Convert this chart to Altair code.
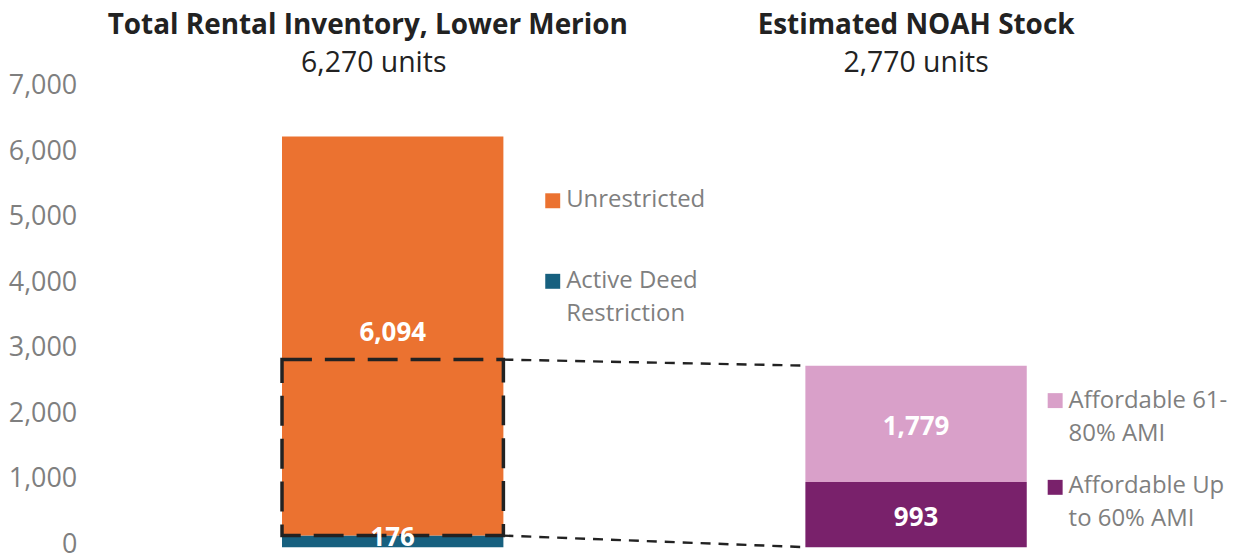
import altair as alt
import pandas as pd

# ---------------- data ----------------
bars = ["Total Rental Inventory, Lower Merion", "Estimated NOAH Stock"]
bar_subtitles = ["6,270 units", "2,770 units"]

seg_bar = [bars[0], bars[0], bars[1], bars[1]]
seg_name = ["Active Deed Restriction", "Unrestricted",
            "Affordable Up to 60% AMI", "Affordable 61-80% AMI"]
seg_value = [176, 6094, 993, 1779]
seg_color = ["#17607F", "#EB7230", "#79216B", "#D9A0C9"]

legend_bar = [bars[0], bars[0], bars[1], bars[1]]
legend_name = ["Unrestricted", "Active Deed Restriction",
               "Affordable 61-80% AMI", "Affordable Up to 60% AMI"]
legend_text = ["Unrestricted", "Active Deed\nRestriction",
               "Affordable 61-\n80% AMI", "Affordable Up\nto 60% AMI"]

box_top_value = 2864          # top of the dashed highlight box on the left bar
axis_values = [0, 1000, 2000, 3000, 4000, 5000, 6000, 7000]

# ---------------- derived tables ----------------
rows = []
running = {}
for b, n, v in zip(seg_bar, seg_name, seg_value):
    s = running.get(b, 0)
    rows.append({"bar": b, "name": n, "value": v, "start": s, "end": s + v,
                 "mid": s + v / 2})
    running[b] = s + v
seg = pd.DataFrame(rows)

bar2_total = running[bars[1]]
box_bottom_value = seg_value[0]

box_df = pd.DataFrame({"bar": [bars[0]], "lo": [box_bottom_value], "hi": [box_top_value]})
conn_df = pd.DataFrame({
    "from": [bars[0], bars[0]],
    "to": [bars[1], bars[1]],
    "ya": [box_top_value, box_bottom_value],
    "yb": [bar2_total, 0],
})

# ---------------- style ----------------
W, H = 1141, 540
PAD_IN, PAD_OUT = 0.577, 0.375
STEP = W / (len(bars) - PAD_IN + 2 * PAD_OUT)
BW = STEP * (1 - PAD_IN)
GRAY = "#7F7F7F"
DARK = "#222222"
xs = alt.Scale(domain=bars, paddingInner=PAD_IN, paddingOuter=PAD_OUT)
ys = alt.Scale(domain=[0, 8220], nice=False, zero=True)
color_scale = alt.Scale(domain=seg_name, range=seg_color)

X = alt.X("bar:N", scale=xs, axis=None, sort=bars)

bars_layer = alt.Chart(seg).mark_bar().encode(
    x=X,
    y=alt.Y("start:Q", scale=ys,
            axis=alt.Axis(values=axis_values, format=",.0f", title=None, grid=False,
                          domain=False, ticks=False, labelFont="Open Sans",
                          labelFontSize=27, labelColor=GRAY, labelPadding=9,
                          labelOffset=-3)),
    y2="end:Q",
    color=alt.Color("name:N", scale=color_scale, legend=None),
)

box = alt.Chart(box_df).mark_rect(
    fillOpacity=0, stroke=DARK, strokeWidth=3.5, strokeDash=[30, 13]
).encode(x=X, y=alt.Y("lo:Q", scale=ys), y2="hi:Q")

connectors = alt.Chart(conn_df).mark_rule(
    color=DARK, strokeWidth=2.4, strokeDash=[10, 8]
).encode(
    x=alt.X("from:N", scale=xs, bandPosition=1, axis=None),
    x2=alt.X2("to:N", bandPosition=0),
    y=alt.Y("ya:Q", scale=ys),
    y2="yb:Q",
)

layers = [bars_layer, box, connectors]

label_dy = {bars[0]: -3, bars[1]: 3}
for b in bars:
    layers.append(alt.Chart(seg[seg["bar"] == b]).mark_text(
        font="Open Sans", fontWeight="bold", fontSize=26, color="white",
        baseline="middle", dy=label_dy[b]
    ).encode(x=X, y=alt.Y("mid:Q", scale=ys),
             text=alt.Text("value:Q", format=",.0f")))

title_font = "Open Sans"
title_dx = [-25, 0]
sub_dx = [-19, 0]
for b, sub, dx, sdx in zip(bars, bar_subtitles, title_dx, sub_dx):
    d = pd.DataFrame({"bar": [b], "title": [b], "sub": [sub]})
    layers.append(alt.Chart(d).mark_text(
        font=title_font, fontWeight="bold", fontSize=28, color=DARK,
        baseline="alphabetic", dx=dx
    ).encode(x=X, y=alt.value(25), text="title:N"))
    layers.append(alt.Chart(d).mark_text(
        font=title_font, fontSize=28.5, color=DARK, baseline="alphabetic", dx=sdx
    ).encode(x=X, y=alt.value(63), text="sub:N"))

# legend layout (pixels inside the plot area, offsets from the bar's right edge)
legend_sq_y = [192.5, 273.3, 393, 480]
legend_tx_y = [198.7, 280.3, 400.3, 485.3]
legend_sq_dx = {bars[0]: 49.5, bars[1]: 28.5}
legend_tx_dx = {bars[0]: 63, bars[1]: 42}
for b, n, t, sy, ty in zip(legend_bar, legend_name, legend_text, legend_sq_y, legend_tx_y):
    d = pd.DataFrame({"bar": [b], "name": [n], "txt": [t]})
    xe = alt.X("bar:N", scale=xs, bandPosition=1, axis=None)
    layers.append(alt.Chart(d).mark_square(size=225, opacity=1).encode(
        x=alt.X("bar:N", scale=xs, axis=None),
        xOffset=alt.value(BW + legend_sq_dx[b]), y=alt.value(sy),
        color=alt.Color("name:N", scale=color_scale, legend=None)
    ))
    layers.append(alt.Chart(d).mark_text(
        font="Open Sans", fontSize=24, color=GRAY, align="left",
        baseline="alphabetic", lineBreak="\n", lineHeight=33, dx=legend_tx_dx[b]
    ).encode(x=xe, y=alt.value(ty), text="txt:N"))

chart = alt.layer(*layers).properties(
    width=W, height=H, padding=0, background="white"
).configure_view(stroke=None)

chart.save("out.html", embed_options={"renderer": "svg", "actions": False})
